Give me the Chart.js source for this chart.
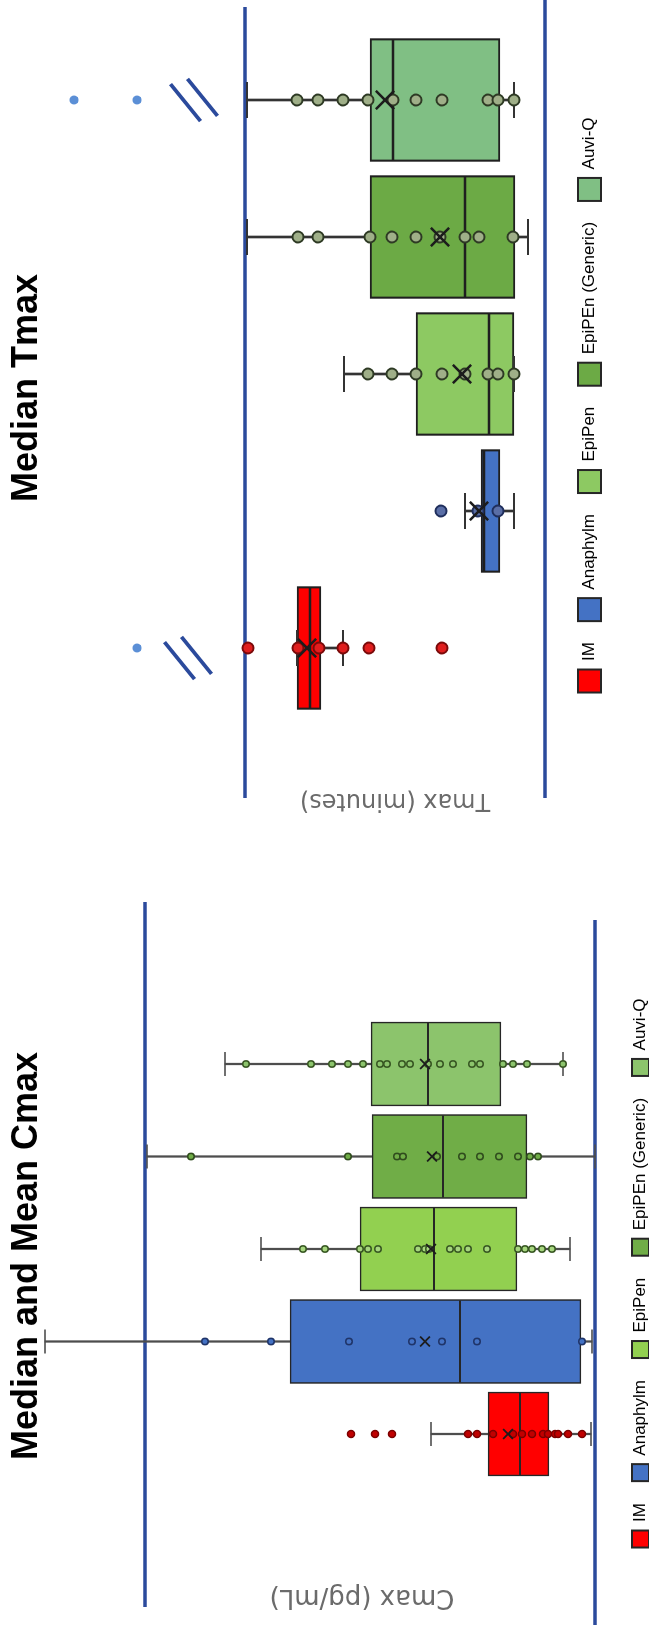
<!DOCTYPE html>
<html>
<head>
<meta charset="utf-8">
<script src="https://cdn.jsdelivr.net/npm/chart.js@4.4.1/dist/chart.umd.min.js"></script>
<style>
  html, body { margin: 0; padding: 0; background: #fff; width: 649px; height: 1633px; overflow: hidden; }
  /* the two panels are laid out side by side, then the whole sheet is turned a quarter turn */
  #stage { position: absolute; left: 0; top: 0; width: 1633px; height: 649px; overflow: hidden;
           transform-origin: 0 0; transform: translateY(1633px) rotate(-90deg); background: #fff; }
  #cmaxBox { position: absolute; left: 0; top: 0; width: 742px; height: 659px; }
  #tmaxBox { position: absolute; left: 800px; top: 0; width: 851px; height: 649px; }
  canvas { display: block; }
</style>
</head>
<body>
<div id="stage">
  <div id="cmaxBox"><canvas id="cmax" width="742" height="659"></canvas></div>
  <div id="tmaxBox"><canvas id="tmax" width="851" height="649"></canvas></div>
</div>
<script>
// Products compared
const categories = ['IM', 'Anaphylm', 'EpiPen', 'EpiPEn (Generic)', 'Auvi-Q'];

// ---- Cmax (pg/mL) ----
const cmaxQ1     = [92, 28, 156, 136, 188];
const cmaxQ3     = [214, 610, 470, 446, 448];
const cmaxMedian = [150, 270, 322, 304, 334];
const cmaxMean   = [174, 340, 328, 326, 340];
const cmaxMin    = [8, 6, 50, 0, 64];
const cmaxMax    = [328, 1100, 668, 896, 740];
const cmaxIM       = [488, 440, 406, 254, 236, 204, 164, 146, 126, 104, 94, 80, 74, 54, 26];
const cmaxAnaphylm = [780, 648, 492, 366, 306, 236, 26];
const cmaxEpiPen   = [584, 540, 470, 454, 434, 354, 340, 332, 290, 274, 254, 216, 154, 140, 126, 106, 86];
const cmaxGeneric  = [808, 494, 396, 384, 316, 266, 230, 192, 154, 130, 114];
const cmaxAuviQ    = [698, 568, 526, 494, 464, 430, 416, 386, 370, 334, 310, 284, 246, 230, 184, 164, 136, 64];
const cmaxRefValues = [900, 0];

// ---- Tmax (minutes) ----
const tmaxQ1     = [44.8, 9.0, 6.2, 6.0, 9.0];
const tmaxQ3     = [49.6, 12.8, 25.8, 35.0, 35.0];
const tmaxMedian = [47.0, 12.2, 11.2, 16.0, 30.4];
const tmaxMean   = [47.6, 13.2, 16.6, 21.0, 32.0];
const tmaxMin    = [40.4, 6.2, 6.2, 3.4, 6.2];
const tmaxMax    = [49.6, 16.0, 40.2, 59.6, 59.6];
const tmaxIM       = [59.4, 49.4, 45.2, 40.4, 35.2, 20.6];
const tmaxAnaphylm = [20.8, 13.4, 9.4];
const tmaxEpiPen   = [35.4, 30.6, 25.8, 20.6, 16.0, 11.4, 9.4, 6.2];
const tmaxGeneric  = [49.4, 45.4, 35.0, 30.6, 25.8, 21.0, 16.0, 13.2, 6.4];
const tmaxAuviQ    = [49.6, 45.4, 40.4, 35.4, 30.4, 25.8, 20.6, 11.4, 9.4, 6.2];
// values past the axis break
const tmaxOffScale = [[81.6], [], [], [], [94.2, 81.6]];
const tmaxBreakAt  = [71.4, null, null, null, 70.2];
const tmaxRefValues = [60, 0];

// ---- drawing helpers ----
const NAVY = '#2B4A9C';

// Reference lines, axis-break marks, and marks allowed to run past the plot frame.
const decorPlugin = {
  id: 'decor',
  beforeDatasetsDraw(chart, args, o) {
    const { ctx, scales: { x, y } } = chart;
    ctx.save();
    ctx.strokeStyle = o.color;
    ctx.lineWidth = o.width;
    o.lines.forEach(l => {
      const py = y.getPixelForValue(l.value);
      ctx.beginPath(); ctx.moveTo(l.from, py); ctx.lineTo(l.to, py); ctx.stroke();
    });
    (o.breaks || []).forEach((v, i) => {
      if (v == null) return;
      const cx = x.getPixelForValue(i) + (o.breakShift[i] || 0);
      const cy = y.getPixelForValue(v);
      [-1, 1].forEach(k => {
        const bx = cx + k * 2.6, by = cy + k * 8.5;
        ctx.beginPath(); ctx.moveTo(bx + 18.5, by - 15); ctx.lineTo(bx - 18.5, by + 15); ctx.stroke();
      });
    });
    ctx.restore();
    // let outlying points beyond the frame still be drawn
    chart.$frame = chart.chartArea;
    chart.chartArea = { left: 0, top: 0, right: chart.width, bottom: chart.height,
                        width: chart.width, height: chart.height };
  },
  afterDatasetsDraw(chart) {
    if (chart.$frame) { chart.chartArea = chart.$frame; chart.$frame = null; }
  }
};

function boxPlot(canvasId, s) {
  const idx = categories.map((_, i) => i);
  const span = (lo, hi) => idx.map(i => ({ x: i, y: [lo[i], hi[i]] }));
  const at = arr => idx.map(i => ({ x: i, y: arr[i] }));
  const scatter = groups => groups.flatMap((vals, i) => vals.map(v => ({ x: i, y: v })));

  const datasets = [
    { type: 'bar', data: span(s.q3, s.max), barThickness: s.whiskerW, backgroundColor: s.whiskerColor,
      grouped: false, order: 6, clip: false },
    { type: 'bar', data: span(s.min, s.q1), barThickness: s.whiskerW, backgroundColor: s.whiskerColor,
      grouped: false, order: 6, clip: false },
    { type: 'bar', data: span(s.q1, s.q3), barThickness: s.boxW, backgroundColor: s.colors,
      borderColor: s.edge, borderWidth: s.boxBorder, borderSkipped: false, grouped: false, order: 5, clip: false },
    { type: 'line', data: [...at(s.min), ...at(s.max)], showLine: false, pointStyle: 'line',
      pointRadius: s.capHalf, pointBorderWidth: s.whiskerW, pointBorderColor: s.whiskerColor,
      borderColor: s.whiskerColor, pointBackgroundColor: 'rgba(0,0,0,0)', order: 4, clip: false },
    { type: 'line', data: at(s.median), showLine: false, pointStyle: 'line',
      pointRadius: s.boxW / 2 - 1, pointBorderWidth: s.medianW, pointBorderColor: s.edge,
      borderColor: s.edge, pointBackgroundColor: 'rgba(0,0,0,0)', order: 3, clip: false },
    { type: 'line', data: scatter(s.points), showLine: false, pointStyle: 'circle',
      pointRadius: c => s.pointR[c.raw.x], pointBorderWidth: s.pointBorder,
      pointBackgroundColor: c => s.pointFill[c.raw.x], pointBorderColor: c => s.pointEdge[c.raw.x],
      borderColor: '#333', order: 2, clip: false },
    { type: 'line', data: at(s.mean), showLine: false, pointStyle: 'crossRot',
      pointRadius: s.meanR, pointBorderWidth: s.meanW, pointBorderColor: '#1c1c1c',
      borderColor: '#1c1c1c', pointBackgroundColor: 'rgba(0,0,0,0)', order: 0, clip: false }
  ];
  if (s.offScale) {
    datasets.push({ type: 'line', data: scatter(s.offScale), showLine: false, pointStyle: 'circle',
      pointRadius: 4.5, pointBorderWidth: 0, pointBackgroundColor: '#5B8FD6', borderColor: '#5B8FD6',
      order: 1, clip: false });
  }

  return new Chart(document.getElementById(canvasId), {
    type: 'bar',
    data: { datasets },
    plugins: [decorPlugin],
    options: {
      responsive: false, animation: false, devicePixelRatio: 1, events: [],
      layout: { autoPadding: false, padding: { left: s.padL, right: s.padR, top: 0, bottom: s.padB } },
      scales: {
        x: { type: 'linear', min: s.xMin, max: s.xMax, offset: false,
             ticks: { display: false }, grid: { display: false, drawTicks: false }, border: { display: false },
             afterFit: sc => { sc.height = s.xAxisH; } },
        y: { type: 'linear', min: 0, max: s.yMax,
             ticks: { display: false }, grid: { display: false, drawTicks: false }, border: { display: false },
             title: { display: true, text: s.axisTitle, color: '#6b6b6b',
                      font: { family: 'DejaVu Sans', size: s.axisFont, lineHeight: 1.2 },
                      padding: { top: s.axisPad, bottom: 0 } },
             afterFit: sc => { sc.width = 34; } }
      },
      plugins: {
        title: { display: true, text: s.title, fullSize: false, color: '#000',
                 font: { family: 'Liberation Sans', size: 36, weight: 'bold', lineHeight: 1.2 },
                 padding: { top: 5, bottom: s.titlePadB } },
        legend: {
          display: true, position: 'bottom', fullSize: true, onClick: null,
          labels: {
            boxWidth: s.legendBox, boxHeight: s.legendBox, padding: s.legendPad, color: '#595959',
            font: { family: 'Liberation Sans', size: s.legendFont },
            generateLabels: () => categories.map((c, i) => ({
              text: c, fillStyle: s.colors[i], strokeStyle: '#262626', lineWidth: 2,
              hidden: false, datasetIndex: 2, index: i }))
          }
        },
        tooltip: { enabled: false },
        decor: { color: NAVY, width: 3.6, lines: s.refLines, breaks: s.breaks, breakShift: s.breakShift }
      }
    }
  });
}

const cmaxColors = ['#FF0000', '#4472C4', '#92D050', '#70AD47', '#8CC46C'];
const tmaxColors = ['#FF0000', '#4472C4', '#8DC962', '#6CAA45', '#80BF84'];

boxPlot('cmax', {
  title: 'Median and Mean Cmax', axisTitle: 'Cmax (pg/mL)', axisFont: 26, axisPad: 2.4,
  q1: cmaxQ1, q3: cmaxQ3, median: cmaxMedian, mean: cmaxMean, min: cmaxMin, max: cmaxMax,
  points: [cmaxIM, cmaxAnaphylm, cmaxEpiPen, cmaxGeneric, cmaxAuviQ],
  colors: cmaxColors,
  pointFill: ['#C00000', '#4472C4', '#A6D67E', '#70AD47', '#8CC46C'],
  pointEdge: ['#7B0000', '#1F3468', '#385723', '#2F4B1D', '#385723'],
  pointR: [3.5, 3.2, 3.2, 3.2, 3.2], pointBorder: 1.5,
  edge: '#262626', boxBorder: 1.6, boxW: 84, medianW: 1.8,
  whiskerW: 1.6, whiskerColor: '#4d4d4d', capHalf: 12,
  meanR: 7, meanW: 1.8,
  yMax: 932, xMin: -1.5892, xMax: 5.4378,
  padL: 18, padR: 40, padB: 0, xAxisH: 15, titlePadB: 80.8,
  legendBox: 17, legendFont: 17, legendPad: 22,
  refLines: [{ value: cmaxRefValues[0], from: 26, to: 731 }, { value: cmaxRefValues[1], from: 8, to: 713 }],
  breaks: [], breakShift: []
});

boxPlot('tmax', {
  title: 'Median Tmax', axisTitle: 'Tmax (minutes)', axisFont: 24, axisPad: 3.6,
  q1: tmaxQ1, q3: tmaxQ3, median: tmaxMedian, mean: tmaxMean, min: tmaxMin, max: tmaxMax,
  points: [tmaxIM, tmaxAnaphylm, tmaxEpiPen, tmaxGeneric, tmaxAuviQ],
  offScale: tmaxOffScale,
  colors: tmaxColors,
  pointFill: ['#E01E1E', '#5A6EA6', '#9FAF88', '#9FAF88', '#9FAF88'],
  pointEdge: ['#7A0A0A', '#1F2E5C', '#2E3A24', '#2E3A24', '#2E3A24'],
  pointR: [5.5, 5.5, 5.5, 5.5, 5.5], pointBorder: 2,
  edge: '#1f1f1f', boxBorder: 2.2, boxW: 123, medianW: 2.6,
  whiskerW: 2, whiskerColor: '#333333', capHalf: 18,
  meanR: 13, meanW: 2.6,
  yMax: 60, xMin: -0.99270, xMax: 4.78832,
  padL: 15, padR: 10, padB: 38, xAxisH: 12, titlePadB: 196.8,
  legendBox: 23, legendFont: 17, legendPad: 21,
  refLines: [{ value: tmaxRefValues[0], from: 35, to: 826 }, { value: tmaxRefValues[1], from: 35, to: 851 }],
  breaks: tmaxBreakAt, breakShift: [-10, 0, 0, 0, 0]
});
</script>
</body>
</html>
